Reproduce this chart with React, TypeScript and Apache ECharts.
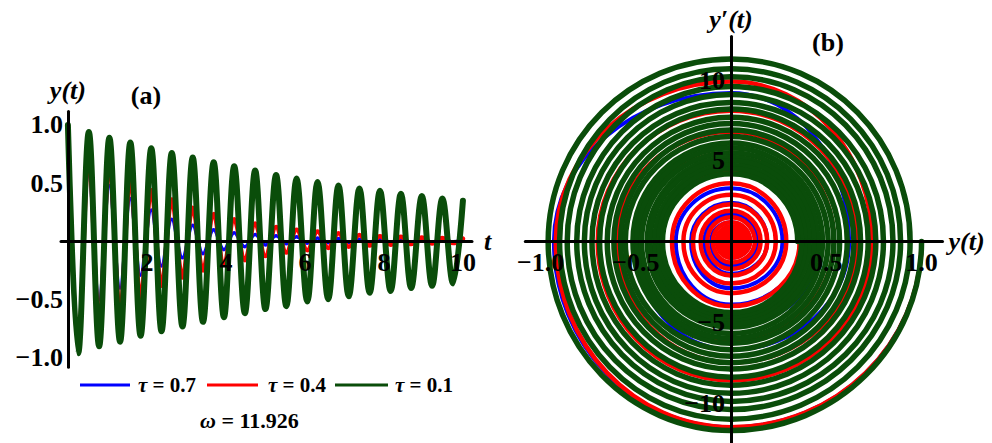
import React, { useEffect, useRef } from 'react';
import * as echarts from 'echarts';

// times of the successive extrema (half periods)
const tExtrema = [0, 0.26, 0.53, 0.79, 1.05, 1.32, 1.58, 1.84, 2.11, 2.37, 2.63, 2.9, 3.16, 3.42, 3.69, 3.95, 4.21, 4.48, 4.74, 5.0, 5.27, 5.53, 5.79, 6.06, 6.32, 6.59, 6.85, 7.11, 7.38, 7.64, 7.9, 8.17, 8.43, 8.69, 8.96, 9.22, 9.48, 9.75, 10.0];

// y(t) at those extrema
const yTau01 = [1.0, -0.96, 0.94, -0.9, 0.89, -0.86, 0.85, -0.81, 0.8, -0.77, 0.76, -0.73, 0.72, -0.69, 0.68, -0.65, 0.645, -0.615, 0.61, -0.58, 0.57, -0.555, 0.54, -0.515, 0.51, -0.495, 0.48, -0.47, 0.455, -0.44, 0.435, -0.425, 0.41, -0.4, 0.39, -0.38, 0.37, -0.36, 0.35];
const yTau04 = [1.0, -0.92, 0.74, -0.7, 0.665, -0.6, 0.54, -0.48, 0.44, -0.38, 0.36, -0.31, 0.29, -0.25, 0.235, -0.2, 0.19, -0.16, 0.155, -0.125, 0.125, -0.095, 0.1, -0.075, 0.085, -0.055, 0.07, -0.045, 0.055, -0.035, 0.045, -0.028, 0.04, -0.022, 0.035, -0.018, 0.03, -0.014, 0.025];
const yTau07 = [1.0, -0.93, 0.62, -0.5, 0.48, -0.4, 0.37, -0.29, 0.27, -0.21, 0.19, -0.14, 0.14, -0.105, 0.1, -0.07, 0.075, -0.045, 0.06, -0.03, 0.05, -0.02, 0.04, -0.015, 0.03, -0.01, 0.025, -0.008, 0.02, -0.006, 0.016, -0.005, 0.013, -0.004, 0.01, -0.003, 0.008, -0.002, 0.006];

// y'(t) at the zero crossings between successive extrema
const dyTau01 = [-11.7, 11.3, -11.0, 10.7, -10.4, 10.2, -9.9, 9.6, -9.4, 9.1, -8.9, 8.6, -8.4, 8.2, -7.9, 7.7, -7.5, 7.3, -7.1, 6.9, -6.7, 6.5, -6.3, 6.1, -6.0, 5.8, -5.7, 5.5, -5.3, 5.2, -5.1, 5.0, -4.8, 4.7, -4.6, 4.5, -4.4, 4.2];
const dyTau04 = [-11.5, 9.9, -8.6, 8.1, -7.5, 6.8, -6.1, 5.5, -4.9, 4.4, -4.0, 3.6, -3.2, 2.9, -2.6, 2.3, -2.1, 1.9, -1.7, 1.5, -1.3, 1.2, -1.0, 0.95, -0.84, 0.75, -0.69, 0.6, -0.54, 0.48, -0.44, 0.41, -0.37, 0.34, -0.32, 0.29, -0.26, 0.23];
const dyTau07 = [-11.5, 9.2, -6.7, 5.8, -5.2, 4.6, -3.9, 3.3, -2.9, 2.4, -2.0, 1.7, -1.5, 1.2, -1.0, 0.86, -0.72, 0.63, -0.54, 0.48, -0.42, 0.36, -0.33, 0.27, -0.24, 0.21, -0.2, 0.17, -0.16, 0.13, -0.12, 0.11, -0.1, 0.08, -0.08, 0.07, -0.06, 0.05];

const tLabels = [2, 4, 6, 8, 10];
const yLabels = [-1, -0.5, 0.5, 1];
const phaseXLabels = [-1, -0.5, 0.5, 1];
const phaseYLabels = [-10, -5, 5, 10];

const legendNames = ['τ = 0.7', 'τ = 0.4', 'τ = 0.1'];
const BLUE = '#0000ff';
const RED = '#ff0000';
const GREEN = '#0a4d0a';
const SERIF = '"Liberation Serif", "DejaVu Serif", serif';

function timeData(ys: number[]) {
  return tExtrema.map((t, i) => [t, ys[i]]);
}
// successive (y, y') points of the trajectory: extrema on the y axis, crossings on the y' axis
function phasePoints(ys: number[], dys: number[]) {
  const out: number[][] = [];
  for (let k = 0; k < ys.length; k++) {
    out.push([ys[k], 0]);
    if (k < dys.length) out.push([0, dys[k]]);
  }
  return out;
}
// quarter-turn segments [y0, y'0, y1, y'1]
function phaseSegments(ys: number[], dys: number[]) {
  const p = phasePoints(ys, dys);
  const segs: number[][] = [];
  for (let i = 0; i < p.length - 1; i++) segs.push([p[i][0], p[i][1], p[i + 1][0], p[i + 1][1]]);
  return segs;
}

const fmtDec = (v: number) => (v < 0 ? '\u2212' : '') + Math.abs(v).toFixed(1);
const fmtInt = (v: number) => (v < 0 ? '\u2212' : '') + Math.abs(v);

const labelStyle = { fontSize: 26, fontWeight: 'bold', fontFamily: SERIF, color: '#000' };
const nameStyle = { fontSize: 26, fontWeight: 'bold', fontStyle: 'italic', fontFamily: SERIF, color: '#000' };
const axisLine = { onZero: false, lineStyle: { color: '#000', width: 3 } };

// grid geometry (pixels)
const G1 = { left: 61, top: 111.6, width: 411, height: 255.7 };
const G2 = { left: 525.3, top: 36.4, width: 417.2, height: 407 };

const KAPPA = 0.5523;

export default function App() {
  const ref = useRef<HTMLDivElement>(null);
  useEffect(() => {
    if (!ref.current) return;
    const chart = echarts.init(ref.current, undefined, { renderer: 'svg' });
    const lineSeries = (name: string, data: number[][], color: string, width: number, z: number) => ({
      type: 'line',
      name,
      xAxisIndex: 0,
      yAxisIndex: 0,
      data,
      smooth: 0.37,
      symbol: 'none',
      showSymbol: false,
      z,
      lineStyle: { color, width, cap: 'round', join: 'round' },
      itemStyle: { color },
    });
    const spiralSeries = (name: string, data: number[][], color: string, width: number, z: number) => ({
      type: 'custom',
      name,
      coordinateSystem: 'cartesian2d',
      xAxisIndex: 1,
      yAxisIndex: 1,
      z,
      clip: true,
      encode: { x: [0, 2], y: [1, 3] },
      data,
      renderItem: (params: any, api: any) => {
        const x0 = api.value(0), y0 = api.value(1), x1 = api.value(2), y1 = api.value(3);
        const c1 = [x0 === 0 ? KAPPA * x1 : x0, y0 === 0 ? KAPPA * y1 : y0];
        const c2 = [x1 === 0 ? KAPPA * x0 : x1, y1 === 0 ? KAPPA * y0 : y1];
        const p0 = api.coord([x0, y0]);
        const q1 = api.coord(c1);
        const q2 = api.coord(c2);
        const p1 = api.coord([x1, y1]);
        return {
          type: 'path',
          shape: { pathData: `M${p0[0]} ${p0[1]}C${q1[0]} ${q1[1]} ${q2[0]} ${q2[1]} ${p1[0]} ${p1[1]}` },
          style: { stroke: color, lineWidth: width, fill: 'none', lineCap: 'round', lineJoin: 'round' },
          silent: true,
        };
      },
    });
    const legendY = 385;
    const legendText = (x: number, s: string) => ({
      type: 'text',
      x,
      y: legendY,
      style: {
        text: '{i|τ}' + s.slice(1),
        fontSize: 21,
        fontWeight: 'bold',
        fontFamily: SERIF,
        fill: '#000',
        textVerticalAlign: 'middle',
        rich: { i: { fontStyle: 'italic', fontSize: 21, fontWeight: 'bold', fontFamily: SERIF } },
      },
    });
    const zeroY1 = 241.5, zeroX1 = 67.9;
    const zeroY2 = 241.5, zeroX2 = 731;
    const option: any = {
      animation: false,
      backgroundColor: '#fff',
      grid: [
        { ...G1, outerBoundsMode: 'none' },
        { ...G2, outerBoundsMode: 'none' },
      ],
      xAxis: [
        {
          type: 'value', gridIndex: 0, min: -0.175, max: 10.23, z: 10, position: 'bottom',
          offset: -(G1.top + G1.height - zeroY1),
          axisLine, splitLine: { show: false }, axisTick: { show: false },
          axisLabel: { ...labelStyle, customValues: tLabels, margin: 8 },
          name: 't', nameLocation: 'end', nameGap: 12, nameTextStyle: nameStyle,
        },
        {
          type: 'value', gridIndex: 1, min: -1.08, max: 1.11, z: 10, position: 'bottom',
          offset: -(G2.top + G2.height - zeroY2),
          axisLine, splitLine: { show: false }, axisTick: { show: false },
          axisLabel: { ...labelStyle, customValues: phaseXLabels, formatter: fmtDec, margin: 8 },
          name: 'y(t)', nameLocation: 'end', nameGap: 6, nameTextStyle: nameStyle,
        },
      ],
      yAxis: [
        {
          type: 'value', gridIndex: 0, min: -1.08, max: 1.115, z: 10, position: 'left',
          offset: -(zeroX1 - G1.left),
          axisLine, splitLine: { show: false }, axisTick: { show: false },
          axisLabel: { ...labelStyle, customValues: yLabels, formatter: fmtDec, margin: 5 },
          name: 'y(t)', nameLocation: 'end', nameGap: 8, nameTextStyle: nameStyle,
        },
        {
          type: 'value', gridIndex: 1, min: -12.5, max: 12.7, z: 10, position: 'left',
          offset: -(zeroX2 - G2.left),
          axisLine, splitLine: { show: false }, axisTick: { show: false },
          axisLabel: { ...labelStyle, customValues: phaseYLabels, formatter: fmtInt, margin: 6 },
          name: 'y\u2032(t)', nameLocation: 'end', nameGap: 4, nameTextStyle: nameStyle,
        },
      ],
      series: [
        lineSeries(legendNames[0], timeData(yTau07), BLUE, 3.5, 2),
        lineSeries(legendNames[1], timeData(yTau04), RED, 4.5, 3),
        lineSeries(legendNames[2], timeData(yTau01), GREEN, 6, 4),
        spiralSeries(legendNames[0], phaseSegments(yTau07, dyTau07), BLUE, 4, 2),
        spiralSeries(legendNames[1], phaseSegments(yTau04, dyTau04), RED, 4.5, 3),
        spiralSeries(legendNames[2], phaseSegments(yTau01, dyTau01), GREEN, 5.5, 4),
      ],
      graphic: [
        { type: 'text', x: 146, y: 95, style: { text: '(a)', fontSize: 26, fontWeight: 'bold', fontFamily: SERIF, fill: '#000', textAlign: 'center', textVerticalAlign: 'middle' } },
        { type: 'text', x: 828, y: 42, style: { text: '(b)', fontSize: 26, fontWeight: 'bold', fontFamily: SERIF, fill: '#000', textAlign: 'center', textVerticalAlign: 'middle' } },
        { type: 'line', shape: { x1: 80, y1: legendY, x2: 130, y2: legendY }, style: { stroke: BLUE, lineWidth: 3 } },
        legendText(138, legendNames[0]),
        { type: 'line', shape: { x1: 207, y1: legendY, x2: 258, y2: legendY }, style: { stroke: RED, lineWidth: 3 } },
        legendText(268, legendNames[1]),
        { type: 'line', shape: { x1: 335, y1: legendY, x2: 388, y2: legendY }, style: { stroke: GREEN, lineWidth: 3 } },
        legendText(395, legendNames[2]),
        {
          type: 'text', x: 200, y: 420,
          style: {
            text: '{i|ω} = 11.926', fontSize: 22, fontWeight: 'bold', fontFamily: SERIF, fill: '#000', textVerticalAlign: 'middle',
            rich: { i: { fontStyle: 'italic', fontSize: 22, fontWeight: 'bold', fontFamily: SERIF } },
          },
        },
      ],
    };
    chart.setOption(option);
    return () => chart.dispose();
  }, []);
  return <div ref={ref} style={{ position: 'fixed', left: 0, top: 0, width: 992, height: 443, background: '#fff' }} />;
}
